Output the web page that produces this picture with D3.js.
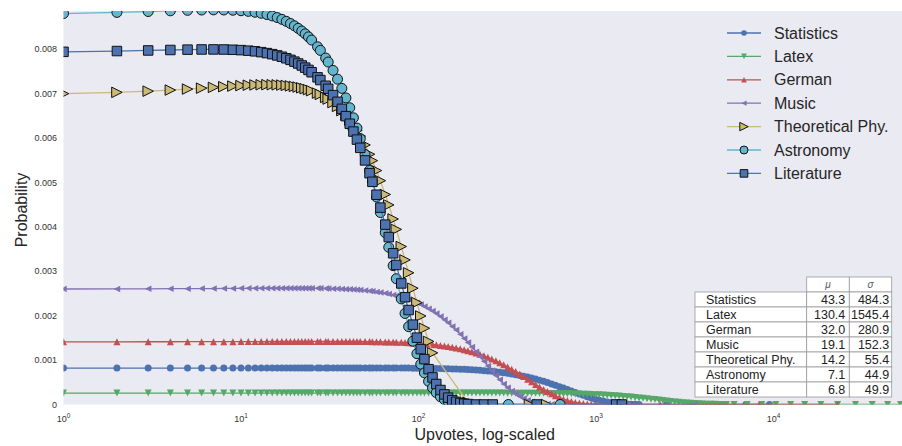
<!DOCTYPE html>
<html><head><meta charset="utf-8">
<script src="https://cdn.jsdelivr.net/npm/d3@7"></script>
<style>body{margin:0;background:#fff}svg{display:block}text{font-family:"Liberation Sans",Arial,sans-serif}</style>
</head><body><svg id="c" width="902" height="446"></svg>
<script>
const upvotes = [1,2,3,4,5,6,7,8,9,10,11,12,13,14,15,16,17,18,19,20,21,22,23,24,25,27,28,30,31,33,35,37,39,41,43,45,47,50,53,55,58,61,65,68,72,75,80,84,88,93,98,103,108,114,120,126,133,140,147,155,163,172,181,190,200,211,222,234,246,259,273,287,302,318,335,353,372,391,412,434,457,481,507,533,562,591,623,656,690,727,765,806,849,894,941,991,1043,1099,1157,1218,1283,1351,1422,1498,1577,1661,1749,1841,1939,2042,2150,2264,2384,2510,2643,2783,2931,3086,3250,3420,3600,3790,3990,4200,4420,4650,4900,5160,5430];

// Probability values per series (aligned with the first N upvotes)
const statistics = [0.000820,0.000820,0.000820,0.000820,0.000821,0.000821,0.000821,0.000821,0.000821,0.000821,0.000821,0.000821,0.000822,0.000822,0.000822,0.000822,0.000822,0.000822,0.000822,0.000823,0.000823,0.000823,0.000823,0.000823,0.000823,0.000823,0.000824,0.000824,0.000824,0.000824,0.000824,0.000824,0.000824,0.000824,0.000824,0.000824,0.000824,0.000824,0.000824,0.000824,0.000824,0.000824,
0.000823,0.000823,0.000822,0.000822,0.000821,0.000821,0.000820,0.000819,0.000818,0.000817,0.000816,0.000815,0.000813,
0.000812,0.000810,0.000807,0.000805,0.000802,0.000799,0.000795,0.000791,0.000787,
0.000782,0.000776,0.000770,0.000762,0.000755,0.000746,0.000736,0.000726,0.000714,0.000701,0.000687,0.000672,0.000654,0.000637,
0.000617,0.000595,0.000572,0.000547,0.000521,0.000494,0.000464,
0.000434,0.000402,0.000371,0.000338,0.000304,0.000272,0.000238,0.000207,0.000176,0.000148,0.000121,0.000098,
0.000077,0.000059,0.000043,0.000031,0.000022,0.000014,0.000009,0.000006,0.000003,0.000002];

const latex = [0.000257,0.000257,0.000257,0.000257,0.000257,0.000257,0.000257,0.000257,0.000257,0.000257,0.000257,0.000257,0.000257,0.000257,0.000257,0.000257,0.000257,0.000257,0.000257,0.000257,0.000257,0.000257,0.000257,0.000257,0.000257,
0.000257,0.000257,0.000257,0.000257,0.000257,0.000257,0.000257,0.000257,0.000257,0.000257,0.000257,0.000257,0.000257,0.000257,0.000257,0.000257,
0.000258,0.000258,0.000258,0.000258,0.000258,0.000258,0.000258,0.000258,0.000258,0.000258,0.000258,0.000258,0.000258,0.000258,0.000258,0.000258,0.000258,0.000258,0.000258,0.000258,0.000258,0.000258,0.000258,0.000258,0.000258,0.000258,0.000258,
0.000257,0.000257,0.000257,0.000257,0.000257,0.000256,0.000256,0.000256,0.000255,0.000255,
0.000254,0.000253,0.000253,0.000252,0.000251,0.000250,0.000248,
0.000247,0.000245,0.000244,0.000242,0.000240,0.000237,0.000235,0.000232,0.000229,0.000225,0.000221,0.000217,
0.000212,0.000207,0.000201,0.000196,0.000189,0.000182,0.000175,0.000167,0.000158,0.000149,
0.000140,0.000130,0.000120,0.000110,0.000100,0.000089,0.000079,0.000069,0.000059,0.000050,0.000041,0.000034,
0.000027,0.000021,0.000016,0.000011,0.000008,0.000006,0.000004,0.000002,0.000001,0.000001];

const german = [0.001412,0.001412,0.001413,0.001413,0.001414,0.001414,0.001415,0.001415,0.001415,0.001416,0.001416,0.001417,0.001417,0.001417,0.001418,0.001418,0.001418,0.001418,0.001419,0.001419,0.001419,0.001419,0.001420,0.001420,0.001420,
0.001420,0.001420,0.001420,0.001420,0.001420,0.001420,0.001420,0.001420,0.001420,
0.001419,0.001419,0.001418,0.001417,0.001416,0.001415,0.001414,0.001413,
0.001410,0.001409,0.001406,0.001404,0.001400,0.001396,0.001392,0.001387,0.001382,0.001376,0.001369,0.001361,0.001352,
0.001343,0.001331,0.001319,0.001306,0.001290,0.001274,0.001254,0.001234,0.001213,
0.001188,0.001159,0.001130,0.001097,0.001063,0.001025,0.000983,0.000940,0.000896,0.000847,0.000795,0.000741,0.000684,0.000629,
0.000570,0.000510,0.000452,0.000396,0.000340,0.000290,0.000240,
0.000196,0.000155,0.000120,0.000091,0.000067,0.000047,0.000032,0.000021,0.000013,0.000008,0.000004,0.000002];

const music = [0.002601,0.002603,0.002605,0.002607,0.002608,0.002610,0.002611,0.002613,0.002614,0.002615,0.002616,0.002617,0.002617,0.002618,0.002619,0.002619,0.002619,0.002620,0.002620,0.002620,0.002619,0.002619,0.002619,0.002618,0.002618,
0.002616,0.002615,0.002613,0.002612,0.002609,0.002605,0.002601,0.002597,0.002593,0.002587,0.002582,0.002576,0.002566,0.002555,0.002548,0.002535,0.002522,
0.002503,0.002488,0.002466,0.002449,0.002418,0.002392,0.002365,0.002329,0.002291,0.002251,0.002209,0.002158,0.002103,
0.002047,0.001980,0.001911,0.001840,0.001758,0.001677,0.001580,0.001487,0.001394,
0.001295,0.001185,0.001080,0.000971,0.000869,0.000763,0.000654,0.000556,0.000463,0.000379,0.000302,0.000235,0.000179,0.000133,
0.000094,0.000064,0.000042,0.000026,0.000015,0.000009,0.000005];

const theoreticalPhy = [0.006999,0.007028,0.007055,0.007080,0.007102,0.007123,0.007140,0.007156,0.007169,0.007180,0.007189,0.007195,0.007199,0.007201,0.007200,0.007197,0.007192,0.007184,0.007174,0.007162,0.007147,0.007130,0.007111,0.007089,0.007065,
0.007011,0.006981,0.006914,0.006877,0.006798,0.006711,0.006616,0.006514,0.006406,0.006291,0.006170,0.006043,0.005844,0.005635,0.005491,0.005268,0.005040,
0.004729,0.004494,0.004178,0.003943,0.003557,0.003256,0.002965,0.002618,0.002294,0.001993,0.001717,0.001421,0.001163];

const astronomy = [0.008803,0.008828,0.008848,0.008864,0.008875,0.008882,0.008885,0.008883,0.008877,0.008866,0.008852,0.008832,0.008809,0.008781,0.008749,0.008712,0.008672,0.008627,0.008578,0.008526,0.008469,0.008409,0.008345,0.008277,0.008206,
0.008054,0.007973,0.007801,0.007711,0.007523,0.007325,0.007118,0.006903,0.006681,0.006455,0.006223,0.005987,0.005629,0.005269,0.005030,0.004673,0.004323,
0.003869,0.003541,0.003126,0.002832,0.002378,0.002050,0.001753,0.001425,0.001144,0.000908,0.000712,0.000522,0.000376,
0.000267,0.000174,0.000111,0.000069,0.000039];

const literature = [0.007941,0.007958,0.007972,0.007982,0.007990,0.007994,0.007995,0.007993,0.007987,0.007979,0.007967,0.007952,0.007934,0.007912,0.007888,0.007860,0.007830,0.007796,0.007760,0.007720,0.007678,0.007633,0.007585,0.007534,0.007481,
0.007366,0.007305,0.007176,0.007108,0.006966,0.006815,0.006657,0.006492,0.006321,0.006145,0.005964,0.005779,0.005496,0.005208,0.005014,0.004723,0.004433,
0.004050,0.003769,0.003405,0.003142,0.002726,0.002416,0.002127,0.001798,0.001505,0.001247,0.001022,0.000795,0.000610,
0.000461,0.000326,0.000227,0.000154,0.000097,0.000060,0.000033,0.000018,0.000010];

// Sparse high-upvote observations (tails)
const statisticsTailUpvotes = [2500,3500,5200,7000,9500];
const statisticsTail = [0,0,0,0,0];
const latexTailUpvotes = [6000,7100,8600,10300,12500,15000,18500,23000,29000,36000,44000,52000];
const latexTail = [0,0,0,0,0,0,0,0,0,0,0,0];
const germanTailUpvotes = [1500,2300,8300,23000];
const germanTail = [0,0,0,0];
const musicTailUpvotes = [1000,1500,3600];
const musicTail = [0,0,0];
const theoreticalPhyTailUpvotes = [190,422,527];
const theoreticalPhyTail = [0.000047,0,0];
const astronomyTailUpvotes = [321,628];
const astronomyTail = [0,0];
const literatureTailUpvotes = [211,234,262,464,1300,1400];
const literatureTail = [0,0,0,0,0,0];

const seriesNames = ["Statistics","Latex","German","Music","Theoretical Phy.","Astronomy","Literature"];
const tableMu = ["43.3","130.4","32.0","19.1","14.2","7.1","6.8"];
const tableSigma = ["484.3","1545.4","280.9","152.3","55.4","44.9","49.9"];
const xTickValues = [1,10,100,1000,10000];
const xTickExponents = ["0","1","2","3","4"];
const yTickValues = [0,0.001,0.002,0.003,0.004,0.005,0.006,0.007,0.008];
const yTickLabels = ["0","0.001","0.002","0.003","0.004","0.005","0.006","0.007","0.008"];

const seriesValues = [statistics, latex, german, music, theoreticalPhy, astronomy, literature];
const tailX = [statisticsTailUpvotes, latexTailUpvotes, germanTailUpvotes, musicTailUpvotes, theoreticalPhyTailUpvotes, astronomyTailUpvotes, literatureTailUpvotes];
const tailY = [statisticsTail, latexTail, germanTail, musicTail, theoreticalPhyTail, astronomyTail, literatureTail];

const styles = [
  {color:"#4C72B0", fill:"#4C72B0", marker:"circle",   size:7,   edge:null},
  {color:"#55A868", fill:"#55A868", marker:"triDown",  size:7,   edge:null},
  {color:"#C44E52", fill:"#C44E52", marker:"triUp",    size:7,   edge:null},
  {color:"#8172B2", fill:"#8172B2", marker:"triLeft",  size:6.5, edge:null},
  {color:"#CCB974", fill:"#CCB974", marker:"triRight", size:10.5,edge:"#111"},
  {color:"#64B5CD", fill:"#64B5CD", marker:"circle",   size:10,  edge:"#111"},
  {color:"#4C72B0", fill:"#4C72B0", marker:"square",   size:9.5, edge:"#111"}
];

function markerPath(t, s){
  const h = s/2;
  switch(t){
    case "circle": return `M${h},0A${h},${h} 0 1,1 ${-h},0A${h},${h} 0 1,1 ${h},0Z`;
    case "square": return `M${-h},${-h}H${h}V${h}H${-h}Z`;
    case "triUp": return `M0,${-h}L${h},${h}L${-h},${h}Z`;
    case "triDown": return `M0,${h}L${h},${-h}L${-h},${-h}Z`;
    case "triLeft": return `M${-h},0L${h},${-h}L${h},${h}Z`;
    case "triRight": return `M${h},0L${-h},${-h}L${-h},${h}Z`;
  }
}

const svg = d3.select("#c");
const m = {left:63.5, right:902, top:11, bottom:404.5};
const x = d3.scaleLog().domain([1, 53000]).range([m.left, m.right]);
const y = d3.scaleLinear().domain([0, 0.00886]).range([m.bottom, m.top]);

svg.append("rect").attr("x",m.left).attr("y",m.top).attr("width",m.right-m.left).attr("height",m.bottom-m.top).attr("fill","#EAEAF2");
svg.append("clipPath").attr("id","clip").append("rect").attr("x",m.left).attr("y",m.top).attr("width",m.right-m.left).attr("height",m.bottom-m.top);

const plot = svg.append("g").attr("clip-path","url(#clip)");
const line = d3.line().x(d=>x(d[0])).y(d=>y(d[1]));

seriesValues.forEach((vals, i) => {
  const st = styles[i];
  const pts = vals.map((v, j) => [upvotes[j], v]).concat(tailX[i].map((u, j) => [u, tailY[i][j]]));
  const g = plot.append("g");
  g.append("path").attr("d", line(pts)).attr("fill","none").attr("stroke", st.color).attr("stroke-width", 1.3);
  const p = markerPath(st.marker, st.size);
  g.selectAll("path.mk").data(pts).enter().append("path").attr("class","mk")
    .attr("d", p)
    .attr("transform", d => `translate(${x(d[0])},${y(d[1])})`)
    .attr("fill", st.fill)
    .attr("stroke", st.edge || "none")
    .attr("stroke-width", st.edge ? 1 : 0);
});

// Y tick labels
svg.append("g").selectAll("text").data(yTickValues).enter().append("text")
  .attr("x", 57).attr("y", d => y(d)).attr("dy","0.35em")
  .attr("text-anchor","end").attr("font-size", 9).attr("fill","#333")
  .text((d,i)=>yTickLabels[i]);

// X tick labels
const xt = svg.append("g").selectAll("text").data(xTickValues).enter().append("text")
  .attr("x", d => x(d)).attr("y", 421.5).attr("text-anchor","middle")
  .attr("font-size", 9).attr("fill","#333");
xt.append("tspan").text("10");
xt.append("tspan").attr("dy", -4).attr("font-size", 6.5).text((d,i)=>xTickExponents[i]);

// Axis titles
svg.append("text").attr("x", (m.left+m.right)/2 + 2).attr("y", 439.5).attr("text-anchor","middle")
  .attr("font-size", 16).attr("fill","#262626").text("Upvotes, log-scaled");
svg.append("text").attr("transform","translate(27,210) rotate(-90)").attr("text-anchor","middle")
  .attr("font-size", 16).attr("fill","#262626").text("Probability");

// Legend
const lg = svg.append("g");
seriesNames.forEach((name, i) => {
  const st = styles[i];
  const cy = 33 + i*23.4;
  lg.append("line").attr("x1",727).attr("x2",761).attr("y1",cy).attr("y2",cy).attr("stroke",st.color).attr("stroke-width",1.3);
  lg.append("path").attr("d", markerPath(st.marker, st.size*0.8)).attr("transform",`translate(744,${cy})`)
    .attr("fill", st.fill).attr("stroke", st.edge || "none").attr("stroke-width", st.edge ? 1 : 0);
  lg.append("text").attr("x",774).attr("y",cy).attr("dy","0.35em").attr("font-size",16).attr("fill","#262626").text(name);
});

// Table
const tb = svg.append("g");
const cols = [695, 806.7, 849.3, 891.7];
const tableTop = 277, rowH = 15;
[1,2].forEach(c => {
  tb.append("rect").attr("x",cols[c]).attr("y",tableTop).attr("width",cols[c+1]-cols[c]).attr("height",rowH)
    .attr("fill","#fff").attr("stroke","#999").attr("stroke-width",0.8);
});
tb.append("text").attr("x",(cols[1]+cols[2])/2).attr("y",tableTop+rowH/2).attr("dy","0.35em").attr("text-anchor","middle")
  .attr("font-size",10).attr("font-style","italic").attr("fill","#555").attr("font-family","DejaVu Serif, serif").text("μ");
tb.append("text").attr("x",(cols[2]+cols[3])/2).attr("y",tableTop+rowH/2).attr("dy","0.35em").attr("text-anchor","middle")
  .attr("font-size",10).attr("font-style","italic").attr("fill","#555").attr("font-family","DejaVu Serif, serif").text("σ");
seriesNames.forEach((name, r) => {
  const ry = tableTop + rowH*(r+1);
  [0,1,2].forEach(c => {
    tb.append("rect").attr("x",cols[c]).attr("y",ry).attr("width",cols[c+1]-cols[c]).attr("height",rowH)
      .attr("fill","#fff").attr("stroke","#999").attr("stroke-width",0.8);
  });
  tb.append("text").attr("x",706).attr("y",ry+rowH/2).attr("dy","0.35em").attr("font-size",12.5).attr("fill","#222").text(name);
  tb.append("text").attr("x",cols[2]-4).attr("y",ry+rowH/2).attr("dy","0.35em").attr("text-anchor","end").attr("font-size",12.5).attr("fill","#222").text(tableMu[r]);
  tb.append("text").attr("x",cols[3]-2.5).attr("y",ry+rowH/2).attr("dy","0.35em").attr("text-anchor","end").attr("font-size",12.5).attr("fill","#222").text(tableSigma[r]);
});
</script></body></html>
